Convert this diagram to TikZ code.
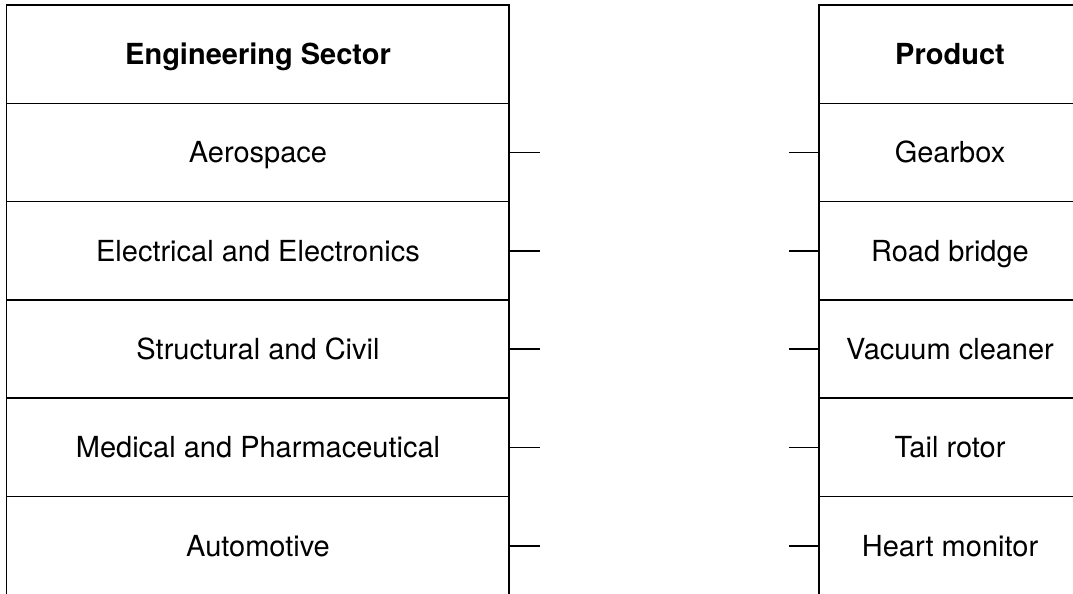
\documentclass[tikz,border=0pt]{standalone}
\usepackage{fontspec}
\setmainfont{TeX Gyre Heros}
\begin{document}
\begin{tikzpicture}[x=1pt,y=-1pt,
  rule/.style={line width=1.6pt,black},
  stub/.style={line width=1.7pt,black},
  celltext/.style={anchor=base,inner sep=0pt,font=\fontsize{29}{35}\selectfont},
  headtext/.style={celltext,font=\fontsize{29}{35}\selectfont\bfseries}]
\useasboundingbox (0,0) rectangle (1073,594);
\def\rowh{98.3}
% tables
\draw[rule] (6.5,594) -- (6.5,5) -- (509,5) -- (509,594);
\draw[rule] (819,594) -- (819,5) -- (1073,5);
\foreach \i in {1,...,5}{
  \draw[rule] (6.5,{5+\i*\rowh}) -- (509,{5+\i*\rowh});
  \draw[rule] (819,{5+\i*\rowh}) -- (1073,{5+\i*\rowh});
}
% header texts
\node[headtext] (hl) at (258,{5+0.5*\rowh+10.4}) {Engineering Sector};
\node[headtext] (hr) at (950,{5+0.5*\rowh+10.4}) {Product};
% rows
\foreach \i/\l/\r in {1/Aerospace/Gearbox,2/Electrical and Electronics/Road bridge,3/Structural and Civil/Vacuum cleaner,4/Medical and Pharmaceutical/Tail rotor,5/Automotive/Heart monitor}{
  \node[celltext] (l\i) at (258,{5+(\i+0.5)*\rowh+10.4}) {\l};
  \node[celltext] (r\i) at (950,{5+(\i+0.5)*\rowh+10.4}) {\r};
  \coordinate (la\i) at (509,{5+(\i+0.5)*\rowh});
  \coordinate (lb\i) at (540,{5+(\i+0.5)*\rowh});
  \coordinate (ra\i) at (789,{5+(\i+0.5)*\rowh});
  \coordinate (rb\i) at (819,{5+(\i+0.5)*\rowh});
  \draw[stub] (la\i) -- (lb\i);
  \draw[stub] (ra\i) -- (rb\i);
}
\end{tikzpicture}
\end{document}
